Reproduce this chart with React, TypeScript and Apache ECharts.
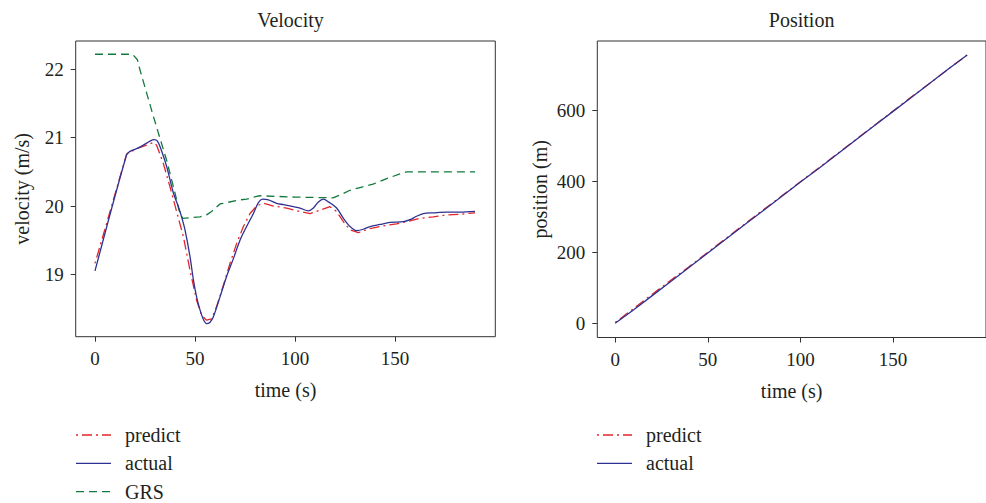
import React, { useEffect, useRef } from "react";
import * as echarts from "echarts";

// Velocity chart data (time in s, velocity in m/s)
const actualT = [0, 15.8, 17.5, 20.8, 24.2, 27.5, 29.7, 31.2, 32.5, 35.8, 39.2, 41.7, 43.3, 45, 47.5, 49.2, 50.8, 52.5, 54.2, 55.8, 57.5, 59.2, 62.5, 65.8, 69.2, 72.5, 75.8, 79.2, 81.7, 83.8, 86.7, 90.8, 94.2, 99.2, 102.5, 106.7, 109.2, 111.7, 114.2, 116.7, 120.8, 124.2, 127.5, 130.8, 134.2, 137.5, 142.5, 147.5, 154.2, 157.5, 160.8, 164.2, 169.2, 175.8, 182.5, 190];
const actualV = [19.05, 20.75, 20.80, 20.84, 20.89, 20.95, 20.97, 20.95, 20.87, 20.58, 20.19, 19.99, 19.84, 19.65, 19.26, 18.92, 18.67, 18.48, 18.34, 18.28, 18.30, 18.38, 18.67, 18.97, 19.23, 19.50, 19.70, 19.89, 20.05, 20.10, 20.09, 20.04, 20.02, 19.99, 19.97, 19.93, 19.97, 20.06, 20.10, 20.06, 19.97, 19.82, 19.70, 19.64, 19.66, 19.70, 19.73, 19.76, 19.77, 19.80, 19.85, 19.89, 19.90, 19.91, 19.91, 19.92];

const predictT = [0, 15.8, 20.8, 25.8, 29.2, 30.8, 34.2, 37.5, 40.8, 44.2, 47.5, 50.8, 53.3, 55.8, 58.3, 60.8, 64.2, 67.5, 70.8, 74.2, 77.5, 80.8, 84.2, 89.2, 95.8, 102.5, 107.5, 112.5, 117.5, 120.8, 124.2, 127.5, 131.7, 137.5, 144.2, 150.8, 155.8, 162.5, 169.2, 175.8, 182.5, 190];
const predictV = [19.16, 20.76, 20.84, 20.89, 20.93, 20.89, 20.62, 20.28, 19.92, 19.55, 19.06, 18.62, 18.40, 18.33, 18.35, 18.53, 18.84, 19.16, 19.45, 19.70, 19.89, 20.00, 20.04, 20.00, 19.97, 19.92, 19.89, 19.94, 19.99, 19.92, 19.77, 19.65, 19.61, 19.67, 19.71, 19.74, 19.77, 19.82, 19.84, 19.87, 19.88, 19.90];

const grsT = [0, 18.8, 21.2, 22.5, 29.2, 35.8, 40, 42, 43.8, 52.5, 55.8, 58.3, 62.5, 65.8, 72.5, 75.8, 80.8, 82.5, 100, 119, 122.5, 127.5, 132.5, 139, 145.8, 152.5, 155.8, 190];
const grsV = [22.22, 22.22, 22.14, 21.99, 21.31, 20.67, 20.19, 19.94, 19.82, 19.84, 19.87, 19.92, 20.03, 20.05, 20.09, 20.10, 20.14, 20.15, 20.13, 20.12, 20.16, 20.23, 20.27, 20.32, 20.40, 20.47, 20.50, 20.50];

// Position chart data (time in s, position in m)
const posT = [0, 10, 20, 30, 40, 50, 60, 70, 80, 90, 100, 110, 120, 130, 140, 150, 160, 170, 180, 190];
const posActual = [0, 38, 78, 118, 158, 198, 238, 278, 318, 358, 398, 437, 477, 517, 557, 597, 637, 677, 717, 756];
const posPredict = [2, 42, 82, 121, 160, 200, 240, 280, 320, 359, 399, 438, 478, 518, 558, 598, 638, 677, 717, 756];

// Tick labels
const timeTicks = [0, 50, 100, 150];
const velTicks = [19, 20, 21, 22];
const posTicks = [0, 200, 400, 600];

// Legend entries
const leftLegend = ["predict", "actual", "GRS"];
const rightLegend = ["predict", "actual"];

const pairs = (t: number[], v: number[]) => t.map((x, i) => [x, v[i]]);

const FONT = "Liberation Serif";
const RED = "#e3262c";
const BLUE = "#2e3192";
const GREEN = "#107a3c";
const TXT = "#231f20";

const predictLine = { color: RED, width: 1.3, type: [2, 4, 10, 4] as any };
const actualLine = { color: BLUE, width: 1.3, type: "solid" as any };
const grsLine = { color: GREEN, width: 1.3, type: [8, 5] as any };
const styleOf: Record<string, any> = { predict: predictLine, actual: actualLine, GRS: grsLine };

function legendGraphics(names: string[], x0: number) {
  const out: any[] = [];
  names.forEach((n, i) => {
    const y = 435 + i * 28.3;
    const s = styleOf[n];
    out.push({
      type: "line",
      shape: { x1: x0, y1: y, x2: x0 + 35, y2: y },
      style: { stroke: s.color, lineWidth: s.width, lineDash: Array.isArray(s.type) ? s.type : null },
    });
    out.push({
      type: "text",
      x: x0 + 49,
      y,
      style: { text: n, fill: TXT, font: `20px "${FONT}"`, verticalAlign: "middle", align: "left" },
    });
  });
  return out;
}

export default function App() {
  const ref = useRef<HTMLDivElement>(null);
  useEffect(() => {
    if (!ref.current) return;
    const chart = echarts.init(ref.current, undefined, { renderer: "svg" });
    const tick = { show: true, length: 5, lineStyle: { color: "#333", width: 1 } };
    const label = { color: TXT, fontFamily: FONT, fontSize: 19, margin: 12 };
    const nameStyle = { color: TXT, fontFamily: FONT, fontSize: 20 };
    const mkX = (gridIndex: number) => ({
      type: "value",
      gridIndex,
      min: -9.65,
      max: 200.15,
      axisLine: { show: false, onZero: false },
      axisTick: { ...tick, customValues: timeTicks },
      axisLabel: { ...label, customValues: timeTicks },
      splitLine: { show: false },
      name: "time (s)",
      nameLocation: "middle",
      nameGap: 43,
      nameTextStyle: nameStyle,
    });
    chart.setOption({
      animation: false,
      backgroundColor: "#fff",
      title: [
        { text: "Velocity", left: 285.5, top: 5, textAlign: "center", textStyle: { ...nameStyle, fontWeight: "normal" } },
        { text: "Position", left: 796.6, top: 5, textAlign: "center", textStyle: { ...nameStyle, fontWeight: "normal" } },
      ],
      grid: [
        { left: 75.7, top: 41, width: 419.6, height: 295.7, show: true, borderColor: "#333", borderWidth: 1, backgroundColor: "transparent" },
        { left: 597.3, top: 41, width: 398.6, height: 296.5, show: true, borderColor: "#333", borderWidth: 1, backgroundColor: "transparent" },
      ],
      xAxis: [mkX(0), mkX(1)],
      yAxis: [
        {
          type: "value",
          gridIndex: 0,
          min: 18.088,
          max: 22.414,
          axisLine: { show: false, onZero: false },
          axisTick: { ...tick, customValues: velTicks },
          axisLabel: { ...label, customValues: velTicks },
          splitLine: { show: false },
          name: "velocity (m/s)",
          nameLocation: "middle",
          nameRotate: 90,
          nameGap: 44,
          nameTextStyle: nameStyle,
        },
        {
          type: "value",
          gridIndex: 1,
          min: -40,
          max: 795.2,
          axisLine: { show: false, onZero: false },
          axisTick: { ...tick, customValues: posTicks },
          axisLabel: { ...label, customValues: posTicks },
          splitLine: { show: false },
          name: "position (m)",
          nameLocation: "middle",
          nameRotate: 90,
          nameGap: 47,
          nameTextStyle: nameStyle,
        },
      ],
      graphic: [...legendGraphics(leftLegend, 76), ...legendGraphics(rightLegend, 597)],
      series: [
        { name: "GRS", type: "line", xAxisIndex: 0, yAxisIndex: 0, symbol: "none", data: pairs(grsT, grsV), lineStyle: grsLine, itemStyle: { color: GREEN }, z: 2 },
        { name: "predict", type: "line", xAxisIndex: 0, yAxisIndex: 0, symbol: "none", data: pairs(predictT, predictV), lineStyle: predictLine, itemStyle: { color: RED }, z: 3 },
        { name: "actual", type: "line", xAxisIndex: 0, yAxisIndex: 0, symbol: "none", smooth: 0.3, data: pairs(actualT, actualV), lineStyle: actualLine, itemStyle: { color: BLUE }, z: 4 },
        { name: "predict", type: "line", xAxisIndex: 1, yAxisIndex: 1, symbol: "none", data: pairs(posT, posPredict), lineStyle: predictLine, itemStyle: { color: RED }, z: 3 },
        { name: "actual", type: "line", xAxisIndex: 1, yAxisIndex: 1, symbol: "none", data: pairs(posT, posActual), lineStyle: actualLine, itemStyle: { color: BLUE }, z: 4 },
      ],
    });
    return () => chart.dispose();
  }, []);
  return (
    <div
      ref={ref}
      style={{ position: "fixed", left: 0, top: 0, width: 986, height: 503, background: "#fff" }}
    />
  );
}
